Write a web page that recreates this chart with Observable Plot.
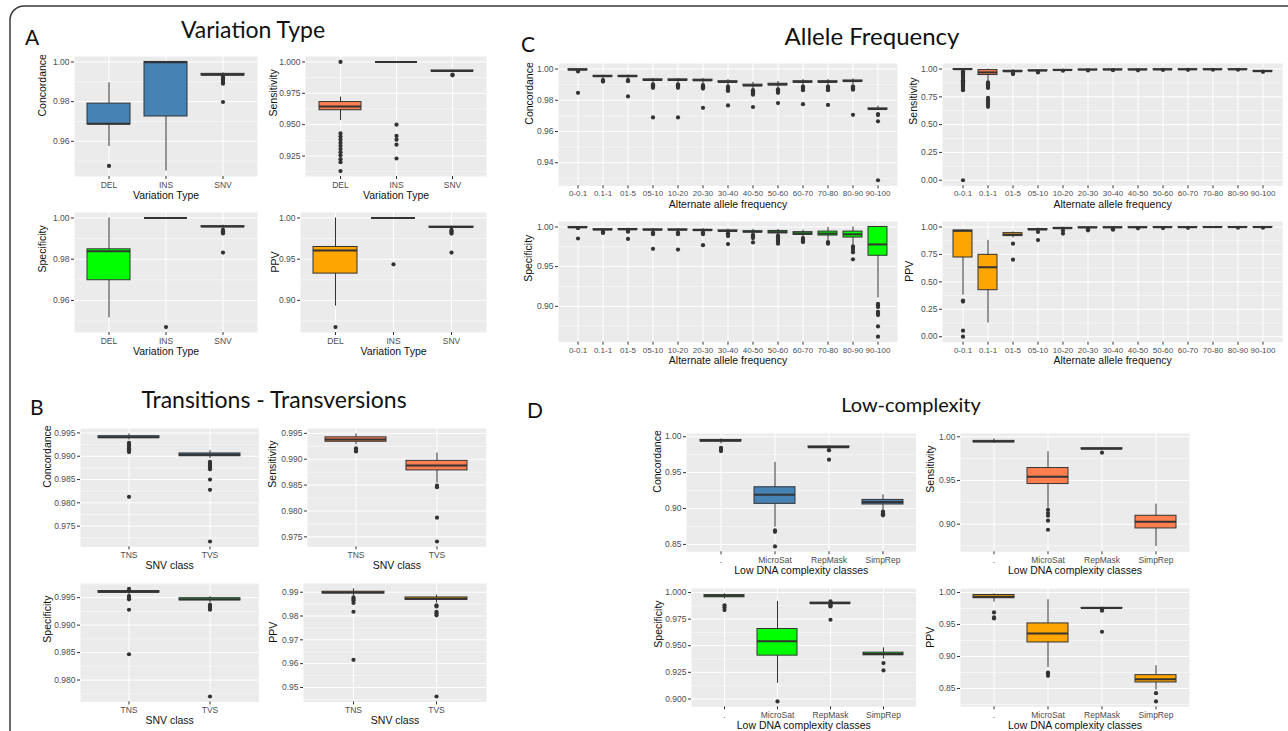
<!DOCTYPE html>
<html><head><meta charset="utf-8">
<script src="https://cdn.jsdelivr.net/npm/d3@7"></script>
<script src="https://cdn.jsdelivr.net/npm/@observablehq/plot@0.6"></script>
<style>
html,body{margin:0;padding:0;background:#fff;}
#page{position:relative;width:1288px;height:731px;overflow:hidden;background:#fff;}
.panel{position:absolute;}
.panel svg{overflow:visible;max-width:none;}
</style></head><body>
<div id="page">
<svg id="deco" width="1288" height="731" style="position:absolute;left:0;top:0">
  <rect x="10" y="6" width="1330" height="800" rx="14" fill="none" stroke="#3a3a3a" stroke-width="1.5"/>
  <g font-family="Lato, 'Open Sans', sans-serif" fill="#111">
    <text x="25" y="45" font-size="21">A</text>
    <text x="253" y="38" font-size="23" text-anchor="middle">Variation Type</text>
    <text x="30" y="415" font-size="21">B</text>
    <text x="274" y="408" font-size="23" text-anchor="middle">Transitions - Transversions</text>
    <text x="521" y="52" font-size="21">C</text>
    <text x="872" y="45" font-size="24" text-anchor="middle">Allele Frequency</text>
    <text x="527" y="418" font-size="21">D</text>
    <text x="911" y="412" font-size="20" text-anchor="middle">Low-complexity</text>
  </g>
</svg>
</div>
<script>
// ---------- categories ----------
const variationTypes = ["DEL", "INS", "SNV"];
const snvClasses = ["TNS", "TVS"];
const alleleBins = ["0-0.1","0.1-1","01-5","05-10","10-20","20-30","30-40","40-50","50-60","60-70","70-80","80-90","90-100"];
const complexityClasses = [".", "MicroSat", "RepMask", "SimpRep"];

// ---------- box stats: [lower whisker, Q1, median, Q3, upper whisker] ----------
// A: Variation type
const varConcordanceBox = [[0.9574,0.9685,0.9688,0.979,0.9895],[0.945,0.9725,0.9998,1.0,1.0],[0.993,0.9932,0.9936,0.994,0.9945]];
const varConcordanceOut = [[0.9476],[],[0.9925,0.992,0.9912,0.9905,0.9897,0.989,0.9798]];
const varConcordanceTicks = ["0.96","0.98","1.00"];

const varSensitivityBox = [[0.9533,0.9615,0.9645,0.968,0.972],[1,1,1,1,1],[0.992,0.9925,0.9928,0.9932,0.9935]];
const varSensitivityOut = [[1.0,0.943,0.9405,0.938,0.9355,0.933,0.9305,0.928,0.9255,0.9225,0.92,0.913],[0.95,0.941,0.938,0.934,0.923],[0.990,0.9893]];
const varSensitivityTicks = ["0.925","0.950","0.975","1.000"];

const varSpecificityBox = [[0.9516,0.9698,0.9838,0.9848,1.0],[1,1,1,1,1],[0.9945,0.9955,0.9958,0.996,0.9965]];
const varSpecificityOut = [[],[0.9471],[0.9942,0.9935,0.993,0.9925,0.9832]];
const varSpecificityTicks = ["0.96","0.98","1.00"];

const varPPVBox = [[0.893,0.9325,0.9604,0.9648,1.0],[1,1,1,1,1],[0.987,0.988,0.989,0.9895,0.990]];
const varPPVOut = [[0.8677],[0.9438],[0.9855,0.984,0.982,0.981,0.958]];
const varPPVTicks = ["0.90","0.95","1.00"];

// B: Transitions - Transversions
const snvConcordanceBox = [[0.9935,0.9939,0.9941,0.9943,0.9948],[0.9895,0.99,0.9903,0.9906,0.9912]];
const snvConcordanceOut = [[0.9929,0.9925,0.9921,0.9917,0.9913,0.9909,0.9813],[0.9888,0.9884,0.988,0.9876,0.9872,0.985,0.9828,0.9717]];
const snvConcordanceTicks = ["0.975","0.980","0.985","0.990","0.995"];

const snvSensitivityBox = [[0.9928,0.99338,0.9938,0.99423,0.9949],[0.9854,0.98784,0.98879,0.98969,0.9912]];
const snvSensitivityOut = [[0.9921,0.9918,0.9915],[0.9849,0.9846,0.9787,0.9741]];
const snvSensitivityTicks = ["0.975","0.980","0.985","0.990","0.995"];

const snvSpecificityBox = [[0.9955,0.9959,0.9961,0.9962,0.9964],[0.994,0.9945,0.9947,0.9949,0.9952]];
const snvSpecificityOut = [[0.9966,0.9953,0.995,0.9947,0.9928,0.9847],[0.9937,0.9934,0.9931,0.9928,0.977]];
const snvSpecificityTicks = ["0.980","0.985","0.990","0.995"];

const snvPPVBox = [[0.9885,0.9895,0.9899,0.9902,0.9914],[0.9855,0.9868,0.9873,0.9878,0.9888]];
const snvPPVOut = [[0.9878,0.9872,0.9866,0.9855,0.9818,0.9616],[0.9845,0.984,0.9818,0.9812,0.9803,0.9462]];
const snvPPVTicks = ["0.95","0.96","0.97","0.98","0.99"];

// C: Allele frequency
const afConcordanceBox = [
  [0.9988,0.9992,0.9996,0.9999,1.0],[0.9935,0.995,0.9954,0.9957,0.9962],[0.9935,0.995,0.9954,0.9957,0.9962],
  [0.991,0.9926,0.993,0.9934,0.994],[0.991,0.9926,0.993,0.9934,0.994],[0.9905,0.9924,0.9928,0.9932,0.994],
  [0.9895,0.9914,0.9918,0.9922,0.9932],[0.987,0.989,0.9895,0.99,0.9915],[0.9875,0.9896,0.9901,0.9906,0.992],
  [0.9895,0.9914,0.9918,0.9922,0.9932],[0.9895,0.9914,0.9918,0.9922,0.9932],[0.99,0.9919,0.9923,0.9927,0.9937],
  [0.9735,0.974,0.9744,0.9748,0.9762]];
const afConcordanceOut = [
  [0.9985,0.9848],[0.993,0.9925,0.992],[0.993,0.9922,0.9825],
  [0.9902,0.9895,0.9888,0.988,0.969],[0.9902,0.9895,0.9888,0.988,0.969],[0.9898,0.989,0.9883,0.9875,0.9752],
  [0.9888,0.988,0.9872,0.9865,0.986,0.9767],[0.9865,0.9857,0.985,0.9843,0.9836,0.9757],[0.987,0.9862,0.9855,0.9848,0.9782],
  [0.9888,0.988,0.9872,0.9865,0.9775],[0.9888,0.988,0.9872,0.9865,0.977],[0.989,0.9882,0.9875,0.9868,0.9707],
  [0.9712,0.9705,0.9665,0.9288]];
const afConcordanceTicks = ["0.94","0.96","0.98","1.00"];

const afSensitivityBox = [
  [0.985,0.995,0.999,1.0,1.0],[0.89,0.946,0.97,0.991,1.0],[0.965,0.975,0.98,0.985,0.995],
  [0.978,0.983,0.986,0.989,0.996],[0.985,0.989,0.991,0.993,0.998],[0.988,0.992,0.994,0.996,0.999],
  [0.99,0.994,0.995,0.997,1.0],[0.99,0.994,0.995,0.997,1.0],[0.992,0.995,0.996,0.998,1.0],
  [0.993,0.996,0.997,0.998,1.0],[0.993,0.996,0.997,0.998,1.0],[0.993,0.996,0.997,0.998,1.0],
  [0.97,0.978,0.981,0.984,0.99]];
const afSensitivityOut = [
  [0.98,0.97,0.96,0.95,0.94,0.93,0.92,0.91,0.9,0.89,0.88,0.87,0.86,0.85,0.84,0.83,0.82,0.81,0.0],
  [0.88,0.87,0.86,0.85,0.84,0.83,0.74,0.72,0.70,0.68,0.66],[0.96,0.955],
  [0.975,0.97],[0.985],[0.988],[0.99],[0.989],[0.992],[0.993],[0.994],[0.994],[0.975]];
const afSensitivityTicks = ["0.00","0.25","0.50","0.75","1.00"];

const afSpecificityBox = [
  [0.998,0.999,0.9995,1.0,1.0],[0.9945,0.996,0.9967,0.9972,0.998],[0.9955,0.9965,0.997,0.9975,0.9985],
  [0.994,0.9958,0.9965,0.997,0.998],[0.994,0.9958,0.9965,0.997,0.998],[0.9935,0.9953,0.996,0.9965,0.998],
  [0.9925,0.9945,0.995,0.9957,0.9975],[0.991,0.9932,0.994,0.9947,0.997],[0.99,0.992,0.9935,0.995,0.997],
  [0.9875,0.99,0.992,0.9935,0.996],[0.982,0.9892,0.9917,0.9942,0.9995],[0.977,0.9867,0.9908,0.9942,1.0],
  [0.9105,0.9637,0.978,1.0,1.0]];
const afSpecificityOut = [
  [0.9985,0.9855],[0.994,0.993,0.9925],[0.995,0.994,0.985],
  [0.993,0.991,0.9725],[0.993,0.991,0.9715],[0.993,0.991,0.9771],
  [0.992,0.99,0.9885,0.9785],[0.99,0.988,0.986,0.9805],[0.989,0.987,0.985,0.983,0.981,0.979],
  [0.986,0.984,0.982,0.981],[0.981,0.98,0.979],[0.9755,0.9735,0.971,0.968,0.9592],
  [0.903,0.901,0.899,0.893,0.891,0.889,0.8746,0.8617]];
const afSpecificityTicks = ["0.90","0.95","1.00"];

const afPPVBox = [
  [0.379,0.722,0.965,0.968,0.975],[0.125,0.424,0.633,0.746,0.878],[0.90,0.917,0.93,0.944,0.955],
  [0.96,0.972,0.977,0.981,0.99],[0.975,0.985,0.989,0.992,0.998],[0.985,0.992,0.995,0.997,1.0],
  [0.988,0.994,0.996,0.998,1.0],[0.99,0.995,0.997,0.998,1.0],[0.992,0.996,0.998,0.999,1.0],
  [0.993,0.996,0.998,0.999,1.0],[0.995,0.997,0.999,1.0,1.0],[0.995,0.997,0.999,1.0,1.0],
  [0.995,0.997,0.999,1.0,1.0]];
const afPPVOut = [
  [0.33,0.32,0.055,0.0],[],[0.848,0.702],[0.955,0.881],[0.968,0.94],[0.98,0.97],
  [0.985,0.98,0.975],[0.988],[0.99],[0.992],[],[0.993],[0.993]];
const afPPVTicks = ["0.00","0.25","0.50","0.75","1.00"];

// D: Low-complexity
const lcConcordanceBox = [[0.990,0.9935,0.9945,0.9955,0.997],[0.874,0.9065,0.919,0.9296,0.9643],[0.9835,0.985,0.9855,0.9865,0.9875],[0.8975,0.9056,0.909,0.912,0.919]];
const lcConcordanceOut = [[0.9845,0.982,0.98],[0.8695,0.8675,0.8472],[0.9815,0.981,0.968],[0.8958,0.8935,0.892,0.8905]];
const lcConcordanceTicks = ["0.85","0.90","0.95","1.00"];

const lcSensitivityBox = [[0.9925,0.9938,0.9946,0.9953,0.9976],[0.9184,0.9459,0.9542,0.9642,0.9828],[0.9845,0.9857,0.9863,0.9869,0.9878],[0.8745,0.8951,0.9027,0.9096,0.9229]];
const lcSensitivityOut = [[],[0.9165,0.9127,0.9096,0.904,0.8936],[0.9818],[]];
const lcSensitivityTicks = ["0.90","0.95","1.00"];

const lcSpecificityBox = [[0.994,0.9955,0.9969,0.9975,0.9987],[0.9147,0.9407,0.9541,0.9657,0.9916],[0.988,0.9895,0.99,0.9905,0.9912],[0.9375,0.941,0.9422,0.9435,0.948]];
const lcSpecificityOut = [[0.988,0.986,0.9835],[0.8977],[0.9916,0.9885,0.9875,0.9869,0.9744],[0.9337,0.9268]];
const lcSpecificityTicks = ["0.900","0.925","0.950","0.975","1.000"];

const lcPPVBox = [[0.985,0.991,0.9935,0.996,0.9978],[0.8828,0.9219,0.936,0.9516,0.9886],[0.974,0.9752,0.9756,0.976,0.9772],[0.8475,0.8594,0.8646,0.8708,0.8855]];
const lcPPVOut = [[0.9688,0.961,0.9594],[0.875,0.873,0.8698],[0.973,0.9715,0.9386],[0.8427,0.8298]];
const lcPPVTicks = ["0.85","0.90","0.95","1.00"];

// ---------- styling / layout ----------
const FILL = {Concordance: "steelblue", Sensitivity: "coral", Specificity: "#00FF00", PPV: "orange"};
const FONT = "'Liberation Sans', Arial, Helvetica, sans-serif";

const panels = [
  {cats: variationTypes, box: varConcordanceBox, out: varConcordanceOut, ticks: varConcordanceTicks, yTitle: "Concordance", xTitle: "Variation Type", L: {x0: 74, x1: 257, y0: 56, y1: 176, ytd: 32}},
  {cats: variationTypes, box: varSensitivityBox, out: varSensitivityOut, ticks: varSensitivityTicks, yTitle: "Sensitivity", xTitle: "Variation Type", L: {x0: 305, x1: 486, y0: 56, y1: 176, ytd: 32}},
  {cats: variationTypes, box: varSpecificityBox, out: varSpecificityOut, ticks: varSpecificityTicks, yTitle: "Specificity", xTitle: "Variation Type", L: {x0: 74, x1: 257, y0: 211.7, y1: 331.7, ytd: 32}},
  {cats: variationTypes, box: varPPVBox, out: varPPVOut, ticks: varPPVTicks, yTitle: "PPV", xTitle: "Variation Type", L: {x0: 300, x1: 486, y0: 211.7, y1: 331.7, ytd: 25}},

  {cats: snvClasses, box: snvConcordanceBox, out: snvConcordanceOut, ticks: snvConcordanceTicks, yTitle: "Concordance", xTitle: "SNV class", L: {x0: 80, x1: 258.3, y0: 428.3, y1: 546.7, ytd: 33}},
  {cats: snvClasses, box: snvSensitivityBox, out: snvSensitivityOut, ticks: snvSensitivityTicks, yTitle: "Sensitivity", xTitle: "SNV class", L: {x0: 307.3, x1: 486, y0: 428.3, y1: 546.7, ytd: 35}},
  {cats: snvClasses, box: snvSpecificityBox, out: snvSpecificityOut, ticks: snvSpecificityTicks, yTitle: "Specificity", xTitle: "SNV class", L: {x0: 80, x1: 258.3, y0: 583.3, y1: 701.7, ytd: 33}},
  {cats: snvClasses, box: snvPPVBox, out: snvPPVOut, ticks: snvPPVTicks, yTitle: "PPV", xTitle: "SNV class", L: {x0: 303, x1: 486, y0: 583.3, y1: 701.7, ytd: 30}},

  {cats: alleleBins, box: afConcordanceBox, out: afConcordanceOut, ticks: afConcordanceTicks, yTitle: "Concordance", xTitle: "Alternate allele frequency", L: {x0: 558, x1: 897, y0: 62.7, y1: 185, ytd: 29}, xfs: 8},
  {cats: alleleBins, box: afSensitivityBox, out: afSensitivityOut, ticks: afSensitivityTicks, yTitle: "Sensitivity", xTitle: "Alternate allele frequency", L: {x0: 941.5, x1: 1281.7, y0: 62.7, y1: 185, ytd: 29}, xfs: 8},
  {cats: alleleBins, box: afSpecificityBox, out: afSpecificityOut, ticks: afSpecificityTicks, yTitle: "Specificity", xTitle: "Alternate allele frequency", L: {x0: 558, x1: 897, y0: 221, y1: 341.7, ytd: 30}, xfs: 8},
  {cats: alleleBins, box: afPPVBox, out: afPPVOut, ticks: afPPVTicks, yTitle: "PPV", xTitle: "Alternate allele frequency", L: {x0: 941.5, x1: 1281.7, y0: 221, y1: 341.7, ytd: 33}, xfs: 8},

  {cats: complexityClasses, box: lcConcordanceBox, out: lcConcordanceOut, ticks: lcConcordanceTicks, yTitle: "Concordance", xTitle: "Low DNA complexity classes", L: {x0: 685.5, x1: 915, y0: 432.7, y1: 551, ytd: 28.5}},
  {cats: complexityClasses, box: lcSensitivityBox, out: lcSensitivityOut, ticks: lcSensitivityTicks, yTitle: "Sensitivity", xTitle: "Low DNA complexity classes", L: {x0: 960, x1: 1189, y0: 432.7, y1: 551, ytd: 30}},
  {cats: complexityClasses, box: lcSpecificityBox, out: lcSpecificityOut, ticks: lcSpecificityTicks, yTitle: "Specificity", xTitle: "Low DNA complexity classes", L: {x0: 690.5, x1: 915, y0: 587.7, y1: 706, ytd: 33}},
  {cats: complexityClasses, box: lcPPVBox, out: lcPPVOut, ticks: lcPPVTicks, yTitle: "PPV", xTitle: "Low DNA complexity classes", L: {x0: 960, x1: 1189, y0: 587.7, y1: 706, ytd: 30}}
];

const page = document.getElementById("page");

function boxPanel(p) {
  const {cats, box, out, ticks, yTitle, xTitle, L} = p;
  const xfs = p.xfs || 8.5;
  const fill = FILL[yTitle];
  const rows = cats.map((c, i) => ({c, lo: box[i][0], q1: box[i][1], med: box[i][2], q3: box[i][3], hi: box[i][4]}));
  const pts = cats.flatMap((c, i) => out[i].map(v => ({c, v})));
  const all = [...box.flat(), ...out.flat()];
  const mn = d3.min(all), mx = d3.max(all), pad = (mx - mn) * 0.05;
  const lo = mn - pad, hi = mx + pad;
  const tickVals = ticks.map(Number);
  const step = tickVals[1] - tickVals[0];
  const minor = [...tickVals.map(t => t - step / 2), tickVals[tickVals.length - 1] + step / 2].filter(t => t > lo && t < hi);
  const ml = 50, mr = 4, mt = 4, mb = 32;
  const pw = L.x1 - L.x0, ph = L.y1 - L.y0;
  const W = pw + ml + mr, H = ph + mt + mb;
  const svg = Plot.plot({
    width: W, height: H,
    marginLeft: ml, marginRight: mr, marginTop: mt, marginBottom: mb,
    style: {background: "transparent", overflow: "visible", fontFamily: FONT, fontSize: "8.5px", maxWidth: "none"},
    x: {type: "band", domain: cats, paddingInner: 0.25, paddingOuter: 0.225, label: null},
    y: {domain: [lo, hi], label: null},
    marks: [
      Plot.frame({fill: "#EBEBEB", stroke: "none"}),
      Plot.gridY(minor, {stroke: "white", strokeOpacity: 1, strokeWidth: 0.5}),
      Plot.gridY(tickVals, {stroke: "white", strokeOpacity: 1, strokeWidth: 1}),
      Plot.gridX(cats, {stroke: "white", strokeOpacity: 1, strokeWidth: 1}),
      Plot.ruleX(rows, {x: "c", y1: "lo", y2: "hi", stroke: "#333", strokeWidth: 1}),
      Plot.barY(rows, {x: "c", y1: "q1", y2: "q3", fill, stroke: "#333", strokeWidth: 1}),
      Plot.tickY(rows, {x: "c", y: "med", stroke: "#333", strokeWidth: 2}),
      Plot.dot(pts, {x: "c", y: "v", r: 2.1, fill: "#333", stroke: "none"}),
      Plot.axisY(tickVals, {tickSize: 3, tickPadding: 2, stroke: "#333", fill: "#4D4D4D", fontSize: 8.5,
        tickFormat: d => ticks[tickVals.indexOf(d)], label: null}),
      Plot.axisX({tickSize: 3, tickPadding: 2, stroke: "#333", fill: "#4D4D4D", fontSize: xfs, label: null}),
      Plot.text([yTitle], {text: d => d, frameAnchor: "left", rotate: -90, dx: -L.ytd, fontSize: 10.5, fill: "#111"}),
      Plot.text([xTitle], {text: d => d, frameAnchor: "bottom", dy: 22, fontSize: 10.5, fill: "#111"})
    ]
  });
  const div = document.createElement("div");
  div.className = "panel";
  div.style.left = (L.x0 - ml) + "px";
  div.style.top = (L.y0 - mt) + "px";
  div.style.width = W + "px";
  div.style.height = H + "px";
  div.appendChild(svg);
  page.appendChild(div);
}

panels.forEach(boxPanel);
</script>
</body></html>
